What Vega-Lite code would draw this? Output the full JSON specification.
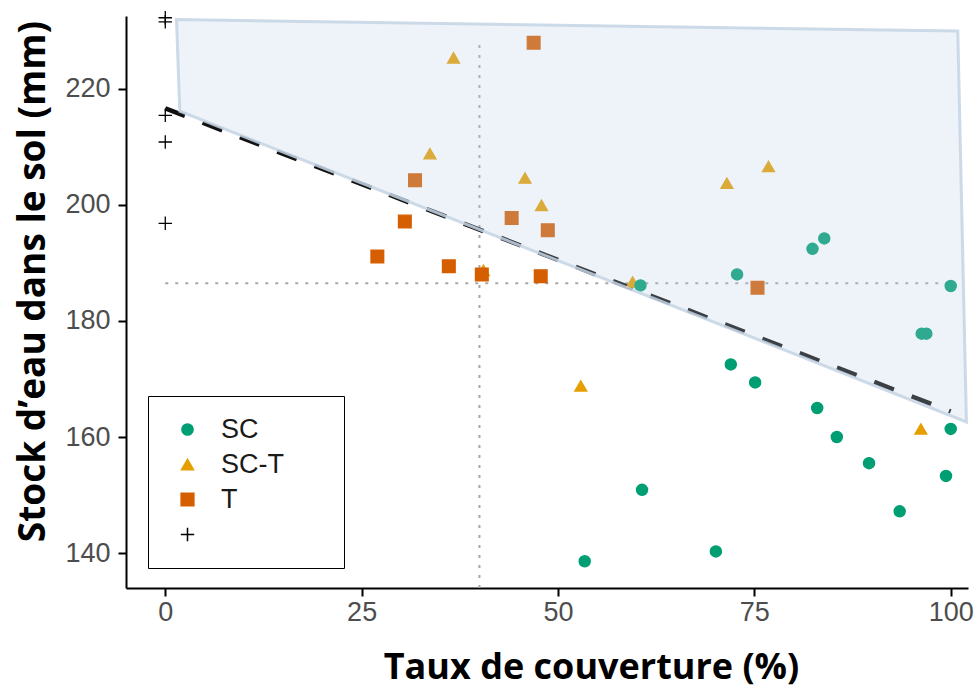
{
  "$schema": "https://vega.github.io/schema/vega-lite/v6.json",
  "width": 842,
  "height": 572,
  "autosize": {"type": "none"},
  "padding": {"left": 126, "top": 16, "right": 12, "bottom": 105},
  "config": {"view": {"stroke": null}, "font": "Liberation Sans"},
  "datasets": {
    "pts": [
      {"g": "P", "couverture": 0, "stock": 232.2},
      {"g": "P", "couverture": 0, "stock": 231.5},
      {"g": "P", "couverture": 0, "stock": 215.4},
      {"g": "P", "couverture": 0, "stock": 210.8},
      {"g": "P", "couverture": 0, "stock": 196.8},
      {"g": "SC-T", "couverture": 36.7, "stock": 225.3},
      {"g": "SC-T", "couverture": 33.7, "stock": 208.8},
      {"g": "SC-T", "couverture": 40.5, "stock": 188.7},
      {"g": "SC-T", "couverture": 45.8, "stock": 204.6},
      {"g": "SC-T", "couverture": 47.9, "stock": 199.9},
      {"g": "SC-T", "couverture": 71.5, "stock": 203.7},
      {"g": "SC-T", "couverture": 76.8, "stock": 206.6},
      {"g": "SC-T", "couverture": 59.5, "stock": 186.7},
      {"g": "SC-T", "couverture": 52.9, "stock": 168.8},
      {"g": "SC-T", "couverture": 96.2, "stock": 161.4},
      {"g": "T", "couverture": 31.8, "stock": 204.2},
      {"g": "T", "couverture": 30.5, "stock": 197.1},
      {"g": "T", "couverture": 27.0, "stock": 191.1},
      {"g": "T", "couverture": 36.1, "stock": 189.4},
      {"g": "T", "couverture": 40.3, "stock": 188.0},
      {"g": "T", "couverture": 46.9, "stock": 227.9},
      {"g": "T", "couverture": 44.1, "stock": 197.7},
      {"g": "T", "couverture": 48.7, "stock": 195.6},
      {"g": "T", "couverture": 47.8, "stock": 187.7},
      {"g": "T", "couverture": 75.4, "stock": 185.7},
      {"g": "SC", "couverture": 60.5, "stock": 186.1},
      {"g": "SC", "couverture": 72.8, "stock": 188.0},
      {"g": "SC", "couverture": 82.4, "stock": 192.4},
      {"g": "SC", "couverture": 83.9, "stock": 194.2},
      {"g": "SC", "couverture": 100.0, "stock": 186.0},
      {"g": "SC", "couverture": 96.3, "stock": 177.8},
      {"g": "SC", "couverture": 96.9, "stock": 177.8},
      {"g": "SC", "couverture": 72.0, "stock": 172.5},
      {"g": "SC", "couverture": 75.1, "stock": 169.4},
      {"g": "SC", "couverture": 83.0, "stock": 165.0},
      {"g": "SC", "couverture": 85.5, "stock": 160.0},
      {"g": "SC", "couverture": 89.6, "stock": 155.5},
      {"g": "SC", "couverture": 93.5, "stock": 147.2},
      {"g": "SC", "couverture": 100.0, "stock": 161.4},
      {"g": "SC", "couverture": 99.4, "stock": 153.3},
      {"g": "SC", "couverture": 60.7, "stock": 150.9},
      {"g": "SC", "couverture": 70.1, "stock": 140.3},
      {"g": "SC", "couverture": 53.4, "stock": 138.6}
    ],
    "refs": [
      {"ref": "h", "couverture": 0, "stock": 186.5},
      {"ref": "h", "couverture": 100, "stock": 186.5},
      {"ref": "v", "couverture": 40, "stock": 134},
      {"ref": "v", "couverture": 40, "stock": 227.6}
    ],
    "trend": [
      {"couverture": 0, "stock": 216.6},
      {"couverture": 100, "stock": 164.4}
    ],
    "zone": [
      {"i": 1, "couverture": 1.43, "stock": 231.9},
      {"i": 2, "couverture": 100.9, "stock": 229.9},
      {"i": 3, "couverture": 102.0, "stock": 162.6},
      {"i": 4, "couverture": 1.85, "stock": 216.1}
    ]
  },
  "encoding": {
    "x": {
      "field": "couverture",
      "type": "quantitative",
      "scale": {"domain": [-5, 102.2], "nice": false, "zero": false},
      "axis": {
        "title": "Taux de couverture (%)",
        "values": [0, 25, 50, 75, 100],
        "grid": false,
        "domainColor": "#000000",
        "domainWidth": 2,
        "tickColor": "#000000",
        "tickWidth": 2,
        "tickSize": 8,
        "labelFont": "Liberation Sans",
        "labelFontSize": 27,
        "labelColor": "#4d4d4d",
        "labelPadding": 3,
        "titleFont": "Open Sans",
        "titleFontWeight": "bold",
        "titleFontSize": 36,
        "titleColor": "#000000",
        "titleX": 465,
        "titleY": 90,
        "titleAlign": "center",
        "titleBaseline": "alphabetic"
      }
    },
    "y": {
      "field": "stock",
      "type": "quantitative",
      "scale": {"domain": [134, 232.5], "nice": false, "zero": false},
      "axis": {
        "title": "Stock d’eau dans le sol (mm)",
        "values": [140, 160, 180, 200, 220],
        "grid": false,
        "domainColor": "#000000",
        "domainWidth": 2,
        "tickColor": "#000000",
        "tickWidth": 2,
        "tickSize": 8,
        "labelFont": "Liberation Sans",
        "labelFontSize": 27,
        "labelColor": "#4d4d4d",
        "labelPadding": 8,
        "titleFont": "Open Sans",
        "titleFontWeight": "bold",
        "titleFontSize": 37,
        "titleColor": "#000000",
        "titleX": -82,
        "titleY": 265,
        "titleAngle": -90,
        "titleAlign": "center",
        "titleBaseline": "alphabetic"
      }
    }
  },
  "layer": [
    {
      "data": {"name": "refs"},
      "mark": {"type": "line", "color": "#a6a6a6", "strokeWidth": 2, "strokeDash": [3, 7]},
      "encoding": {"detail": {"field": "ref"}}
    },
    {
      "data": {"name": "trend"},
      "mark": {"type": "line", "color": "#111111", "strokeWidth": 4.5, "strokeDash": [21, 19]},
      "encoding": {}
    },
    {
      "data": {"name": "pts"},
      "mark": {"type": "point", "filled": true, "opacity": 1, "strokeWidth": 1.3},
      "encoding": {
        "fill": {
          "field": "g",
          "type": "nominal",
          "scale": {"domain": ["SC", "SC-T", "T", "P"], "range": ["#009E73", "#E69F00", "#D55E00", "#000000"]},
          "legend": {
            "title": null,
            "orient": "none",
            "legendX": 22,
            "legendY": 380,
            "direction": "vertical",
            "padding": 20,
            "rowPadding": 7,
            "strokeColor": "#000000",
            "fillColor": "#ffffff",
            "labelFont": "Liberation Sans",
            "labelFontSize": 27,
            "labelColor": "#1a1a1a",
            "symbolOffset": 6,
            "labelOffset": 20,
            "labelExpr": "datum.label == 'P' ? '' : datum.label + '\u2800\u2800'",
            "encode": {"legend": {"update": {"strokeWidth": {"value": 1.5}}}}
          }
        },
        "stroke": {
          "field": "g",
          "type": "nominal",
          "scale": {"domain": ["SC", "SC-T", "T", "P"], "range": ["#009E73", "#E69F00", "#D55E00", "#000000"]}
        },
        "shape": {
          "field": "g",
          "type": "nominal",
          "scale": {"domain": ["SC", "SC-T", "T", "P"], "range": ["circle", "triangle-up", "square", "M-1,0L1,0M0,-1L0,1"]}
        },
        "size": {
          "field": "g",
          "type": "nominal",
          "scale": {"domain": ["SC", "SC-T", "T", "P"], "range": [125, 180, 110, 280]}
        }
      }
    },
    {
      "data": {"name": "zone"},
      "mark": {
        "type": "line",
        "interpolate": "linear-closed",
        "clip": false,
        "fill": "#bbcfe8",
        "fillOpacity": 0.25,
        "stroke": "#c4d4e4",
        "strokeWidth": 3,
        "strokeOpacity": 0.85
      },
      "encoding": {"order": {"field": "i", "type": "quantitative"}}
    }
  ]
}
